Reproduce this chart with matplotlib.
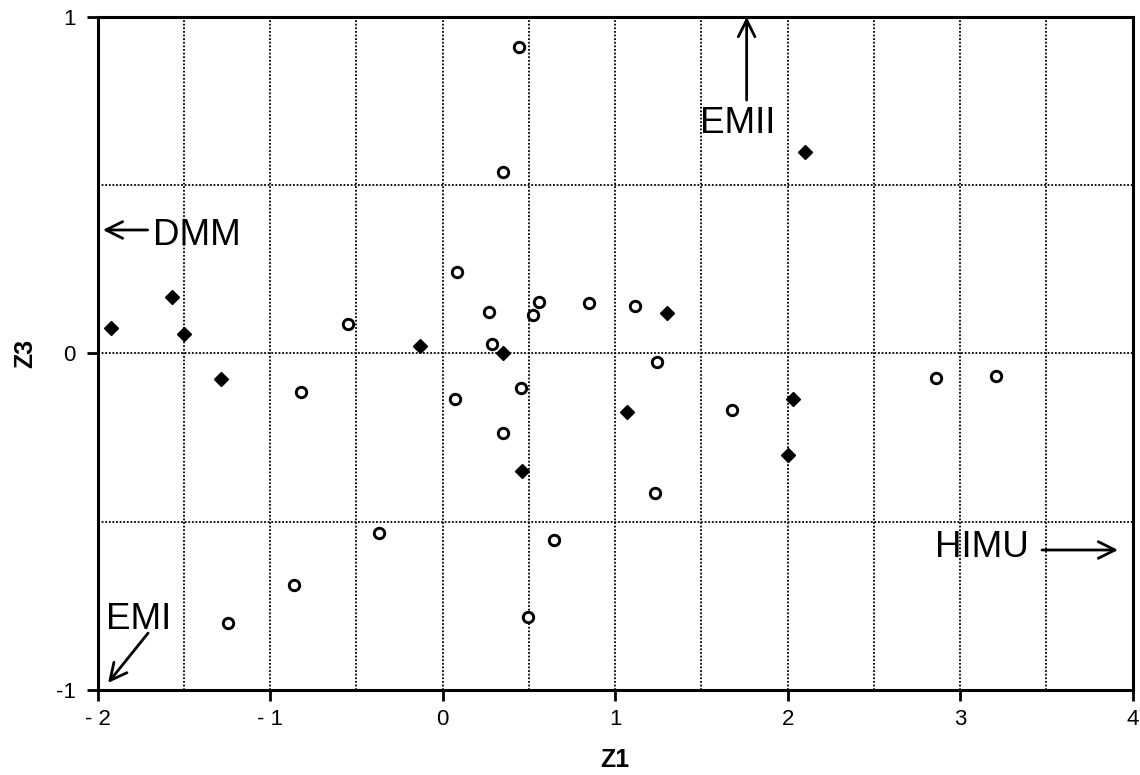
import matplotlib
matplotlib.use("Agg")
import matplotlib.pyplot as plt

plt.rcParams['font.family'] = ['Liberation Sans', 'DejaVu Sans']

# filled diamonds
z1_filled = [-1.92, -1.57, -1.50, -1.285, -0.13, 0.35, 0.46, 1.07, 1.30, 2.03, 2.00, 2.10]
z3_filled = [0.076, 0.169, 0.057, -0.077, 0.023, 0.0, -0.35, -0.173, 0.119, -0.136, -0.302, 0.60]

# open circles
z1_open = [0.44, 0.35, 0.08, 0.27, 0.56, 0.525, 0.85, 1.115, 0.285, 1.24, 0.455, 0.07,
           -0.55, -0.82, 0.35, 1.23, 1.675, 0.645, 0.495, -0.37, -0.86, -1.245, 2.86, 3.21]
z3_open = [0.91, 0.538, 0.243, 0.122, 0.154, 0.114, 0.149, 0.142, 0.027, -0.026, -0.102, -0.136,
           0.087, -0.113, -0.236, -0.415, -0.168, -0.554, -0.783, -0.534, -0.688, -0.802, -0.074, -0.066]

xticks = [-2, -1, 0, 1, 2, 3, 4]
xtick_labels = ['- 2', '- 1', '0', '1', '2', '3', '4']
yticks = [-1, 0, 1]
ytick_labels = ['-1', '0', '1']

fig = plt.figure(figsize=(11.4, 7.75), dpi=100)
ax = fig.add_axes([0.0857, 0.1097, 0.9079, 0.8684])

ax.set_xlim(-2, 4)
ax.set_ylim(-1, 1)

# dotted grid every 0.5
for gx in [-1.5, -1, -0.5, 0, 0.5, 1, 1.5, 2, 2.5, 3, 3.5]:
    ax.axvline(gx, color='black', linestyle=(0, (1, 1)), linewidth=1.3, zorder=1)
for gy in [-0.5, 0, 0.5]:
    ax.axhline(gy, color='black', linestyle=(0, (1, 1)), linewidth=1.3, zorder=1)

ax.plot(z1_open, z3_open, linestyle='none', marker='o', markersize=7.5,
        markerfacecolor='white', markeredgecolor='black', markeredgewidth=2.1, zorder=3)
ax.plot(z1_filled, z3_filled, linestyle='none', marker='D', markersize=7.5,
        color='black', zorder=4)

ax.set_xticks(xticks)
ax.set_xticklabels(xtick_labels)
ax.set_yticks(yticks)
ax.set_yticklabels(ytick_labels)
ax.tick_params(direction='out', length=8, width=2, labelsize=16)
ax.tick_params(axis='x', pad=6)
ax.tick_params(axis='y', pad=8)

for s in ax.spines.values():
    s.set_linewidth(2.2)

ax.set_xlabel('Z1', fontsize=18, fontweight='bold', labelpad=13)
ax.set_ylabel('Z3', fontsize=18, fontweight='bold', labelpad=13)

arrow = dict(arrowstyle='->', lw=2, color='black', mutation_scale=30, shrinkA=0, shrinkB=0)
fs = 26.5

ax.annotate('', xy=(1.762, 1.0), xytext=(1.762, 0.753), arrowprops=arrow)
ax.text(1.49, 0.655, 'EMII', fontsize=fs, ha='left', va='baseline')

ax.annotate('', xy=(-1.97, 0.367), xytext=(-1.71, 0.367), arrowprops=arrow)
ax.text(-1.68, 0.35, 'DMM', fontsize=fs, ha='left', va='center')

ax.annotate('', xy=(3.915, -0.584), xytext=(3.474, -0.584), arrowprops=arrow)
ax.text(2.855, -0.578, 'HIMU', fontsize=fs, ha='left', va='center')

ax.annotate('', xy=(-1.94, -0.979), xytext=(-1.708, -0.831), arrowprops=arrow)
ax.text(-1.952, -0.792, 'EMI', fontsize=fs, ha='left', va='center')

fig.savefig('out.png', dpi=100)
